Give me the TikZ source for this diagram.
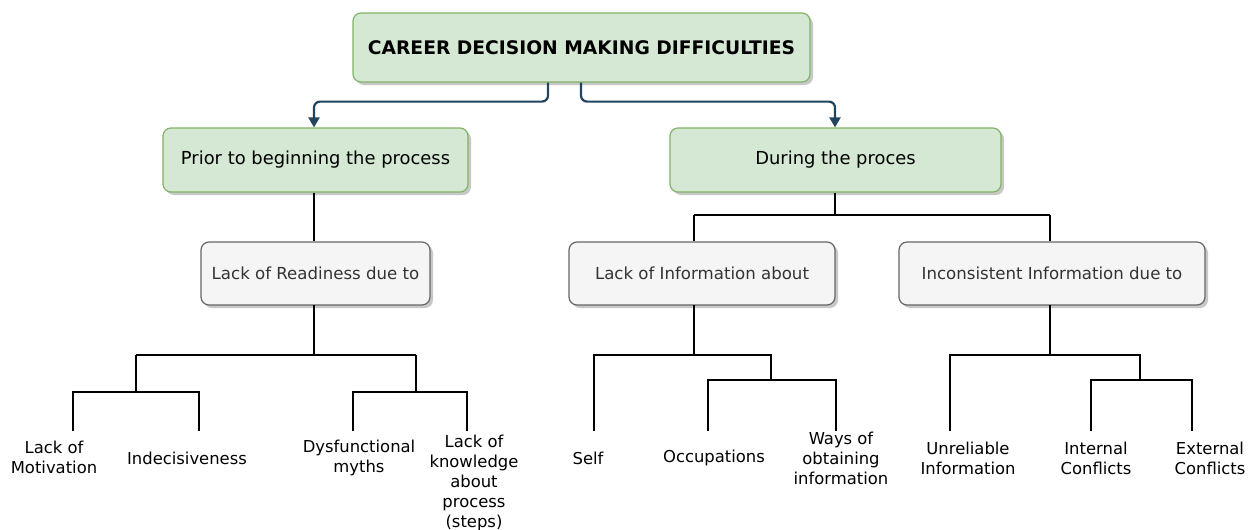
\documentclass[tikz,border=0pt]{standalone}
\usepackage{fontspec}
\setmainfont{DejaVu Sans}
\usetikzlibrary{arrows.meta,shadows}
\definecolor{grfill}{HTML}{D5E8D4}
\definecolor{grline}{HTML}{82B366}
\definecolor{gyfill}{HTML}{F5F5F5}
\definecolor{gyline}{HTML}{666666}
\definecolor{gytext}{HTML}{333333}
\definecolor{arrowblue}{HTML}{23445D}
\tikzset{
  boxshadow/.style={drop shadow={shadow xshift=3pt,shadow yshift=-3pt,opacity=.3,fill=black!70}},
  greenbox/.style={rectangle,rounded corners=8pt,draw=grline,line width=1.2pt,fill=grfill,
    boxshadow,font=\fontsize{17.9}{22}\selectfont,text=black,inner sep=0pt},
  greybox/.style={rectangle,rounded corners=8pt,draw=gyline,line width=1.2pt,fill=gyfill,
    boxshadow,font=\fontsize{16.6}{20}\selectfont,text=gytext,inner sep=0pt},
  leaf/.style={align=center,inner sep=0pt,font=\fontsize{16.4}{20}\selectfont,text=black},
  tree/.style={line width=2.4pt,black},
  flow/.style={line width=2.2pt,arrowblue,rounded corners=6pt,-{Triangle[length=10pt,width=11pt]}}
}
\begin{document}
\begin{tikzpicture}[x=1pt,y=-1pt]
\useasboundingbox (0,0) rectangle (1254,530);
\fill[white] (0,0) rectangle (1254,530);

% top level and first branches
\node[greenbox,minimum width=457pt,minimum height=69pt,font=\fontsize{18.7}{22}\selectfont\bfseries]
  (top) at (581.5,47.5) {CAREER DECISION MAKING DIFFICULTIES};
\node[greenbox,minimum width=305pt,minimum height=64pt] (prior) at (315.5,160) {Prior to beginning the process};
\node[greenbox,minimum width=331pt,minimum height=64pt] (during) at (835.5,160) {During the proces};

\draw[flow] ([xshift=-33.5pt]top.south) -- ++(0,19) -| ([xshift=-1.5pt]prior.north);
\draw[flow] ([xshift=-0.5pt]top.south) -- ++(0,19) -| ([xshift=-0.5pt]during.north);

% second level
\node[greybox,minimum width=229pt,minimum height=63pt] (ready) at (315.5,273.5) {Lack of Readiness due to};
\node[greybox,minimum width=266pt,minimum height=63pt] (info) at (702,273.5) {Lack of Information about};
\node[greybox,minimum width=306pt,minimum height=63pt] (incons) at (1052,273.5) {Inconsistent Information due to};

\draw[tree] ([xshift=-1.5pt]prior.south) -- ([xshift=-1.5pt]ready.north);
\coordinate (dA) at (694,215);
\coordinate (dB) at (1050,215);
\draw[tree] ([xshift=-0.5pt]during.south) -- ++(0,23);
\draw[tree] (dA) -- (dB);
\draw[tree] (dA) -- (dA |- info.north);
\draw[tree] (dB) -- (dB |- incons.north);

% leaves
\node[leaf] (motiv) at (54,457) {Lack of\\Motivation};
\node[leaf] (indec) at (187,458) {Indecisiveness};
\node[leaf] (myths) at (359,458) {Dysfunctional\\myths};
\node[leaf] (knowl) at (474,483) {Lack of\\knowledge\\about\\process\\(steps)};
\node[leaf] (self) at (588,458) {Self};
\node[leaf] (occup) at (714,458) {Occupations};
\node[leaf] (ways) at (841,458) {Ways of\\obtaining\\information};
\node[leaf] (unrel) at (968,458) {Unreliable\\Information};
\node[leaf] (inter) at (1096,458) {Internal\\Conflicts};
\node[leaf] (exter) at (1210,458) {External\\Conflicts};

% connector end points above the leaves
\coordinate (eMotiv) at (73,431);
\coordinate (eIndec) at (199,431);
\coordinate (eMyths) at (353,431);
\coordinate (eKnowl) at (467,431);
\coordinate (eSelf) at (594,431);
\coordinate (eOccup) at (708,431);
\coordinate (eWays) at (836,431);
\coordinate (eUnrel) at (950,431);
\coordinate (eInter) at (1091,431);
\coordinate (eExter) at (1192,431);

% readiness subtree
\draw[tree] (314,305) -- (314,355);
\draw[tree] (136,355) -- (416,355);
\draw[tree] (136,355) -- (136,392);
\draw[tree] (416,355) -- (416,392);
\draw[tree] (eMotiv) |- (eIndec |- 0,392) -- (eIndec);
\draw[tree] (eMyths) |- (eKnowl |- 0,392) -- (eKnowl);

% information subtree
\draw[tree] (694,305) -- (694,355);
\draw[tree] (eSelf) |- (771,355) -- (771,380);
\draw[tree] (eOccup) |- (eWays |- 0,380) -- (eWays);

% inconsistency subtree
\draw[tree] (1050,305) -- (1050,355);
\draw[tree] (eUnrel) |- (1140,355) -- (1140,380);
\draw[tree] (eInter) |- (eExter |- 0,380) -- (eExter);
\end{tikzpicture}
\end{document}
